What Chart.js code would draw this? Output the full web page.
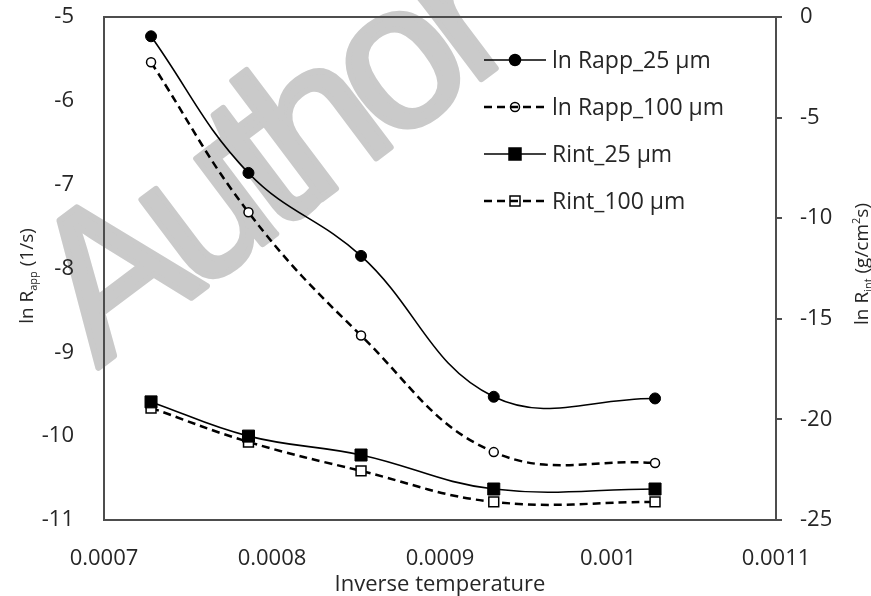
<!DOCTYPE html>
<html>
<head>
<meta charset="utf-8">
<script src="https://cdn.jsdelivr.net/npm/chart.js@4.4.1/dist/chart.umd.min.js"></script>
<style>
  html, body { margin: 0; padding: 0; background: #fff; }
</style>
</head>
<body>
<canvas id="chart" width="871" height="596"></canvas>
<script>
// inverse temperature (1/K)
const inverseTemp = [0.000728, 0.000786, 0.000853, 0.000932, 0.001028];
// left axis: ln Rapp
const lnRapp25 = [-5.23, -6.86, -7.85, -9.53, -9.55];
const lnRapp100 = [-5.54, -7.33, -8.80, -10.19, -10.32];
// right axis: Rint
const rint25 = [-19.13, -20.83, -21.77, -23.46, -23.46];
const rint100 = [-19.43, -21.12, -22.56, -24.10, -24.10];

const seriesLabels = ['ln Rapp_25 µm', 'ln Rapp_100 µm', 'Rint_25 µm', 'Rint_100 µm'];
const xTickLabels = ['0.0007', '0.0008', '0.0009', '0.001', '0.0011'];

const FONT = "'Open Sans', sans-serif";
const TEXT = '#262626';
const FRAME = '#4d4d4d';

const toPoints = ys => inverseTemp.map((x, i) => ({ x: x, y: ys[i] }));

function drawRich(ctx, parts, cx, cy, rot) {
  ctx.save();
  ctx.translate(cx, cy);
  ctx.rotate(rot);
  ctx.textBaseline = 'alphabetic';
  ctx.textAlign = 'left';
  let total = 0;
  parts.forEach(p => {
    ctx.font = p.size + 'px ' + FONT;
    p.w = ctx.measureText(p.t).width;
    total += p.w;
  });
  let x = -total / 2;
  parts.forEach(p => {
    ctx.font = p.size + 'px ' + FONT;
    ctx.fillStyle = TEXT;
    ctx.fillText(p.t, x, 6 + (p.dy || 0));
    x += p.w;
  });
  ctx.restore();
}

// drop the label overflow padding so the plot box sits where we want it
const noScalePad = s => { s.paddingTop = 0; s.paddingBottom = 0; s.paddingLeft = 0; s.paddingRight = 0; };

const decorations = {
  id: 'decorations',
  beforeDraw(chart) {
    const ctx = chart.ctx;
    ctx.save();
    ctx.fillStyle = '#fff';
    ctx.fillRect(0, 0, chart.width, chart.height);
    // watermark
    ctx.translate(98, 368);
    ctx.rotate(-37 * Math.PI / 180);
    ctx.font = "205px 'Liberation Sans', sans-serif";
    if ('letterSpacing' in ctx) ctx.letterSpacing = '-14px';
    ctx.fillStyle = '#cacaca';
    ctx.strokeStyle = '#cacaca';
    ctx.lineWidth = 6;
    ctx.lineJoin = 'round';
    ctx.textBaseline = 'alphabetic';
    ctx.fillText('Author', 0, 0);
    ctx.strokeText('Author', 0, 0);
    ctx.restore();
  },
  afterDraw(chart) {
    const ctx = chart.ctx;
    const a = chart.chartArea;
    // top frame line
    ctx.save();
    ctx.strokeStyle = FRAME;
    ctx.lineWidth = 2;
    ctx.beginPath();
    ctx.moveTo(a.left - 1, a.top);
    ctx.lineTo(a.right + 1, a.top);
    ctx.stroke();
    ctx.restore();

    // axis titles with subscripts
    drawRich(ctx, [
      { t: 'ln R', size: 19 },
      { t: 'app', size: 11, dy: 4 },
      { t: ' (1/s)', size: 19 }
    ], 27, 276, -Math.PI / 2);
    drawRich(ctx, [
      { t: 'ln R', size: 19 },
      { t: 'int', size: 11, dy: 4 },
      { t: ' (g/cm', size: 19 },
      { t: '2', size: 11, dy: -8 },
      { t: 's)', size: 19 }
    ], 862, 264, -Math.PI / 2);

    // legend
    const rowsY = [60, 107, 154, 201];
    chart.data.datasets.forEach((ds, i) => {
      const y = rowsY[i];
      ctx.save();
      ctx.strokeStyle = '#000';
      ctx.lineWidth = ds.borderWidth;
      ctx.setLineDash(ds.borderDash || []);
      ctx.beginPath();
      ctx.moveTo(484, y);
      ctx.lineTo(546, y);
      ctx.stroke();
      ctx.setLineDash([]);
      ctx.lineWidth = 1.5;
      const filled = ds.pointBackgroundColor === '#000';
      ctx.beginPath();
      if (ds.pointStyle === 'circle') {
        ctx.arc(515, y, filled ? 5.5 : 4.5, 0, Math.PI * 2);
      } else {
        const s = filled ? 6 : 5;
        ctx.rect(515 - s, y - s, 2 * s, 2 * s);
      }
      if (filled) { ctx.fillStyle = '#000'; ctx.fill(); }
      ctx.stroke();
      ctx.font = '23px ' + FONT;
      ctx.fillStyle = TEXT;
      ctx.textBaseline = 'middle';
      ctx.fillText(ds.label, 552, y + 1);
      ctx.restore();
    });
  }
};

new Chart(document.getElementById('chart'), {
  type: 'line',
  data: {
    datasets: [
      {
        label: seriesLabels[0],
        data: toPoints(lnRapp25),
        yAxisID: 'y',
        borderColor: '#000',
        borderWidth: 1.6,
        pointStyle: 'circle',
        pointRadius: 5.5,
        pointBackgroundColor: '#000',
        pointBorderColor: '#000',
        pointBorderWidth: 1
      },
      {
        label: seriesLabels[1],
        data: toPoints(lnRapp100),
        yAxisID: 'y',
        borderColor: '#000',
        borderWidth: 2.5,
        borderDash: [8, 5],
        pointStyle: 'circle',
        pointRadius: 4.5,
        pointBackgroundColor: '#fff',
        pointBorderColor: '#000',
        pointBorderWidth: 1.5
      },
      {
        label: seriesLabels[2],
        data: toPoints(rint25),
        yAxisID: 'y1',
        borderColor: '#000',
        borderWidth: 1.6,
        pointStyle: 'rect',
        pointRadius: 8.5,
        pointBackgroundColor: '#000',
        pointBorderColor: '#000',
        pointBorderWidth: 1
      },
      {
        label: seriesLabels[3],
        data: toPoints(rint100),
        yAxisID: 'y1',
        borderColor: '#000',
        borderWidth: 2.5,
        borderDash: [8, 5],
        pointStyle: 'rect',
        pointRadius: 7,
        pointBackgroundColor: '#fff',
        pointBorderColor: '#000',
        pointBorderWidth: 1.5
      }
    ]
  },
  options: {
    responsive: false,
    animation: false,
    devicePixelRatio: 1,
    tension: 0.4,
    layout: { padding: { top: 17, left: 0, right: 0, bottom: 0 } },
    plugins: {
      legend: { display: false },
      tooltip: { enabled: false }
    },
    scales: {
      x: {
        type: 'linear',
        min: 0.0007,
        max: 0.0011,
        afterBuildTicks: s => { s.ticks = xTickLabels.map(t => ({ value: Number(t) })); },
        ticks: {
          callback: (v, i) => xTickLabels[i],
          font: { family: FONT, size: 22 },
          color: TEXT,
          padding: 18,
          maxRotation: 0
        },
        grid: { display: false },
        border: { display: true, color: FRAME, width: 2 },
        title: {
          display: true,
          text: 'Inverse temperature',
          font: { family: FONT, size: 22, lineHeight: 1.0 },
          color: TEXT,
          padding: { top: 0, bottom: 0 }
        },
        afterFit: s => { s.height = 76; noScalePad(s); }
      },
      y: {
        position: 'left',
        min: -11,
        max: -5,
        ticks: {
          stepSize: 1,
          font: { family: FONT, size: 22 },
          color: TEXT,
          padding: 22
        },
        grid: { display: false },
        border: { display: true, color: FRAME, width: 2 },
        afterFit: s => { s.width = 104; noScalePad(s); }
      },
      y1: {
        position: 'right',
        min: -25,
        max: 0,
        ticks: {
          stepSize: 5,
          font: { family: FONT, size: 22 },
          color: TEXT,
          padding: 18
        },
        grid: {
          display: true,
          drawOnChartArea: false,
          drawTicks: true,
          tickLength: 6,
          color: FRAME,
          lineWidth: 2
        },
        border: { display: true, color: FRAME, width: 2 },
        afterFit: s => { s.width = 95; noScalePad(s); }
      }
    }
  },
  plugins: [decorations]
});
</script>
</body>
</html>
